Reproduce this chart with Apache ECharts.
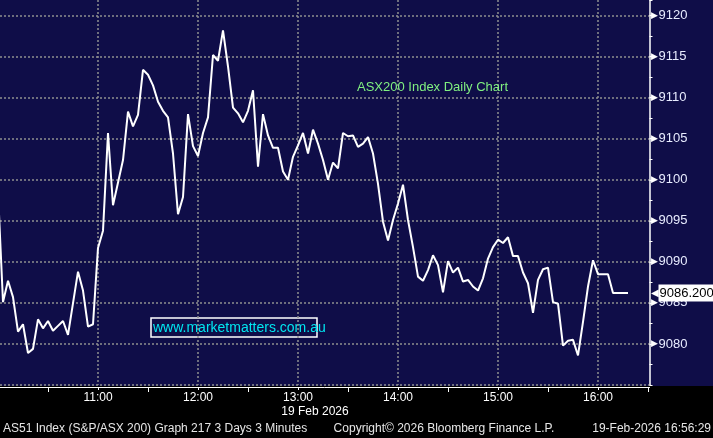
<!DOCTYPE html>
<html>
<head>
<meta charset="utf-8">
<title>ASX200 Index Daily Chart</title>
<script src="https://cdn.jsdelivr.net/npm/echarts@6/dist/echarts.min.js"></script>
<style>
  html, body { margin: 0; padding: 0; background: #000; }
  #chart { width: 713px; height: 438px; }
</style>
</head>
<body>
<div id="chart"></div>
<script>
// AS51 3 minute bars, 19 Feb 2026 (turning points)
var times = [
  '10:00', '10:03', '10:06', '10:09', '10:12', '10:15', '10:18', '10:21', '10:24', '10:27',
  '10:30', '10:33', '10:36', '10:39', '10:42', '10:48', '10:51', '10:54', '10:57', '11:00',
  '11:03', '11:06', '11:09', '11:15', '11:18', '11:21', '11:24', '11:27', '11:30', '11:33',
  '11:36', '11:39', '11:42', '11:45', '11:48', '11:51', '11:54', '11:57', '12:00', '12:03',
  '12:06', '12:09', '12:12', '12:15', '12:18', '12:21', '12:24', '12:27', '12:30', '12:33',
  '12:36', '12:39', '12:42', '12:45', '12:48', '12:51', '12:54', '12:57', '13:00', '13:03',
  '13:06', '13:09', '13:12', '13:15', '13:18', '13:21', '13:24', '13:27', '13:30', '13:33',
  '13:36', '13:39', '13:42', '13:45', '13:48', '13:51', '13:54', '13:57', '14:00', '14:03',
  '14:06', '14:09', '14:12', '14:15', '14:18', '14:21', '14:24', '14:27', '14:30', '14:33',
  '14:36', '14:39', '14:42', '14:45', '14:48', '14:51', '14:54', '14:57', '15:00', '15:03',
  '15:06', '15:09', '15:12', '15:15', '15:18', '15:21', '15:24', '15:27', '15:30', '15:33',
  '15:36', '15:39', '15:42', '15:45', '15:48', '15:51', '15:54', '15:57', '16:00', '16:06',
  '16:09', '16:18'
];
var prices = [
  9098.5, 9085.1, 9087.7, 9085.7, 9081.5, 9082.4, 9078.9, 9079.4, 9083.0, 9081.9,
  9082.8, 9081.6, 9082.2, 9082.8, 9081.1, 9088.8, 9086.5, 9082.1, 9082.4, 9091.7,
  9093.8, 9105.7, 9096.9, 9102.4, 9108.3, 9106.5, 9107.9, 9113.4, 9112.8, 9111.5,
  9109.5, 9108.4, 9107.6, 9103.2, 9095.8, 9097.9, 9108.0, 9104.1, 9102.9, 9105.7,
  9107.6, 9115.2, 9114.5, 9118.2, 9113.8, 9108.8, 9108.1, 9107.0, 9108.4, 9110.9,
  9101.6, 9108.0, 9105.4, 9103.9, 9103.9, 9101.0, 9100.0, 9102.8, 9104.2, 9105.7,
  9103.2, 9106.1, 9104.4, 9102.4, 9100.0, 9102.1, 9101.4, 9105.7, 9105.3, 9105.4,
  9104.0, 9104.4, 9105.2, 9103.2, 9099.5, 9094.9, 9092.6, 9095.1, 9097.1, 9099.4,
  9095.1, 9091.8, 9088.2, 9087.7, 9089.0, 9090.8, 9089.6, 9086.3, 9090.1, 9088.7,
  9089.3, 9087.6, 9087.8, 9087.0, 9086.5, 9088.0, 9090.4, 9091.8, 9092.7, 9092.3,
  9093.0, 9090.7, 9090.7, 9088.7, 9087.4, 9083.8, 9087.8, 9089.1, 9089.3, 9085.1,
  9084.9, 9079.8, 9080.4, 9080.5, 9078.6, 9082.7, 9087.0, 9090.2, 9088.5, 9088.5,
  9086.2, 9086.2
];
var lastPrice = 9086.2;
var hourLabels = ['11:00', '12:00', '13:00', '14:00', '15:00', '16:00'];
var halfHours = ['10:30', '11:30', '12:30', '13:30', '14:30', '15:30', '16:30'];
var yRange = [9075, 9121.9];
var xRange = ['10:01:12', '16:30:54'];

function toMin(t) {
  var p = t.split(':');
  return (+p[0] - 10) * 60 + (+p[1]) + (p[2] ? +p[2] / 60 : 0);
}

var chart = echarts.init(document.getElementById('chart'));

var dotted = { color: '#8e8e8e', width: 1.5, type: [2, 2] };
var font = 'Arial, "Liberation Sans", sans-serif';

var option = {
  backgroundColor: '#0f0d48',
  animation: false,
  textStyle: { fontFamily: font },
  title: {
    text: 'ASX200 Index Daily Chart',
    left: 357,
    top: 81,
    padding: 0,
    textStyle: { color: '#80f080', fontSize: 13, fontWeight: 'normal', fontFamily: font }
  },
  grid: { left: 0, top: 0, width: 649.5, height: 385 },
  xAxis: [{
    type: 'value',
    min: toMin(xRange[0]),
    max: toMin(xRange[1]),
    offset: 2,
    axisLine: { show: true, onZero: false, lineStyle: { color: '#fff', width: 1 } },
    axisTick: { show: true, length: 3, customValues: hourLabels.map(toMin), lineStyle: { color: '#fff' } },
    axisLabel: {
      color: '#fff',
      fontSize: 12,
      margin: 5,
      customValues: hourLabels.map(toMin),
      formatter: function (v) {
        return hourLabels[Math.round(v / 60) - 1];
      }
    },
    splitLine: { show: true, lineStyle: dotted }
  }, {
    // half hour ticks
    type: 'value',
    position: 'bottom',
    min: toMin(xRange[0]),
    max: toMin(xRange[1]),
    offset: 2,
    axisLine: { show: false },
    axisTick: { show: true, length: 5, customValues: halfHours.map(toMin), lineStyle: { color: '#fff' } },
    axisLabel: { show: false },
    splitLine: { show: false }
  }],
  yAxis: [{
    type: 'value',
    position: 'right',
    min: yRange[0],
    max: yRange[1],
    interval: 5,
    axisLine: { show: true, lineStyle: { color: '#fff', width: 1.5 } },
    axisTick: { show: false },
    axisLabel: {
      margin: 1,
      showMinLabel: false,
      showMaxLabel: false,
      formatter: function (v) { return '{t|\u25B6}' + v; },
      rich: {
        t: { color: '#fff', fontSize: 9, padding: [0, 1, 0, 0] }
      },
      color: '#e8ecff',
      fontSize: 13
    },
    splitLine: { show: true, showMaxLine: false, lineStyle: dotted }
  }, {
    // half-step ticks on the price scale
    type: 'value',
    position: 'right',
    min: yRange[0],
    max: yRange[1],
    interval: 2.5,
    axisLine: { show: false },
    axisTick: { show: true, length: 3, lineStyle: { color: '#fff' } },
    axisLabel: { show: false },
    splitLine: { show: false }
  }],
  series: [{
    type: 'line',
    data: times.map(function (t, i) { return [toMin(t), prices[i]]; }),
    showSymbol: false,
    clip: false,
    z: 5,
    lineStyle: { color: '#fff', width: 2 },
    markLine: {
      silent: true,
      symbol: 'none',
      lineStyle: { color: 'rgba(0,0,0,0)', width: 0 },
      data: [{ yAxis: lastPrice }],
      label: {
        show: true,
        position: 'end',
        distance: 1,
        formatter: function () { return '{a|\u25C0}{b|' + lastPrice.toFixed(3) + '}'; },
        rich: {
          a: { color: '#fff', fontSize: 10 },
          b: { backgroundColor: '#fff', color: '#000', fontSize: 13, padding: [2, 2, 2, 1] }
        }
      }
    }
  }],
  graphic: [
    { type: 'rect', z: -1, shape: { x: 0, y: 386, width: 713, height: 52 }, style: { fill: '#000' } },
    {
      type: 'rect', shape: { x: 151, y: 318, width: 166, height: 19 },
      style: { fill: null, stroke: '#fff', lineWidth: 1.5 }
    },
    {
      type: 'text', x: 153, y: 328,
      style: { text: 'www.marketmatters.com.au', fill: '#00e6f0', font: '14px ' + font, verticalAlign: 'middle' }
    },
    {
      type: 'text', x: 315, y: 412,
      style: { text: '19 Feb 2026', fill: '#fff', font: '12px ' + font, align: 'center', verticalAlign: 'middle' }
    },
    {
      type: 'text', x: 3, y: 429,
      style: { text: 'AS51 Index (S&P/ASX 200) Graph 217 3 Days 3 Minutes', fill: '#e6e6e6', font: '12px ' + font, verticalAlign: 'middle' }
    },
    {
      type: 'text', x: 444, y: 429,
      style: { text: 'Copyright\u00A9 2026 Bloomberg Finance L.P.', fill: '#e6e6e6', font: '12px ' + font, align: 'center', verticalAlign: 'middle' }
    },
    {
      type: 'text', x: 711, y: 429,
      style: { text: '19-Feb-2026 16:56:29', fill: '#e6e6e6', font: '12px ' + font, align: 'right', verticalAlign: 'middle' }
    }
  ]
};

chart.setOption(option);
</script>
</body>
</html>
